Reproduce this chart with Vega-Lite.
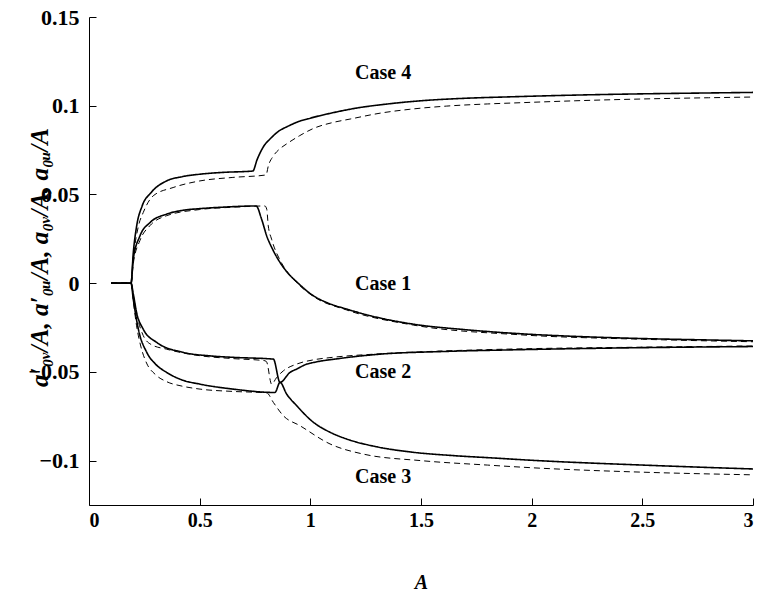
{
  "$schema": "https://vega.github.io/schema/vega-lite/v6.json",
  "autosize": "none",
  "padding": {"left": 89, "top": 17, "right": 9, "bottom": 87},
  "width": 664,
  "height": 488,
  "background": "white",
  "config": {
    "view": {"stroke": null},
    "axis": {
      "grid": false,
      "domainColor": "black",
      "domainWidth": 1,
      "tickColor": "black",
      "tickSize": -7,
      "labelColor": "black",
      "labelFont": "Liberation Serif",
      "labelFontWeight": "bold",
      "labelFontSize": 20,
      "titleColor": "black",
      "titleFont": "Liberation Serif",
      "titleFontWeight": "bold",
      "titleFontStyle": "italic"
    }
  },
  "layer": [
    {
      "data": {
        "values": [
          {"c": "4", "s": "solid", "x": 0.1, "y": 0},
          {"c": "4", "s": "solid", "x": 0.19, "y": 0},
          {"c": "4", "s": "solid", "x": 0.2, "y": 0.017},
          {"c": "4", "s": "solid", "x": 0.215, "y": 0.032},
          {"c": "4", "s": "solid", "x": 0.24, "y": 0.0435},
          {"c": "4", "s": "solid", "x": 0.28, "y": 0.051},
          {"c": "4", "s": "solid", "x": 0.35, "y": 0.0576},
          {"c": "4", "s": "solid", "x": 0.42, "y": 0.06},
          {"c": "4", "s": "solid", "x": 0.5, "y": 0.0614},
          {"c": "4", "s": "solid", "x": 0.6, "y": 0.0624},
          {"c": "4", "s": "solid", "x": 0.74, "y": 0.0632},
          {"c": "4", "s": "solid", "x": 0.76, "y": 0.0698},
          {"c": "4", "s": "solid", "x": 0.79, "y": 0.0773},
          {"c": "4", "s": "solid", "x": 0.82, "y": 0.0815},
          {"c": "4", "s": "solid", "x": 0.85, "y": 0.085},
          {"c": "4", "s": "solid", "x": 0.9, "y": 0.0885},
          {"c": "4", "s": "solid", "x": 0.95, "y": 0.0912},
          {"c": "4", "s": "solid", "x": 1.0, "y": 0.093},
          {"c": "4", "s": "solid", "x": 1.1, "y": 0.096},
          {"c": "4", "s": "solid", "x": 1.2, "y": 0.0985},
          {"c": "4", "s": "solid", "x": 1.35, "y": 0.101},
          {"c": "4", "s": "solid", "x": 1.5, "y": 0.1028},
          {"c": "4", "s": "solid", "x": 1.7, "y": 0.1042},
          {"c": "4", "s": "solid", "x": 1.9, "y": 0.105},
          {"c": "4", "s": "solid", "x": 2.2, "y": 0.106},
          {"c": "4", "s": "solid", "x": 2.5, "y": 0.1067},
          {"c": "4", "s": "solid", "x": 2.8, "y": 0.1072},
          {"c": "4", "s": "solid", "x": 3.0, "y": 0.1075},

          {"c": "4", "s": "dashed", "x": 0.1, "y": 0},
          {"c": "4", "s": "dashed", "x": 0.19, "y": 0},
          {"c": "4", "s": "dashed", "x": 0.2, "y": 0.014},
          {"c": "4", "s": "dashed", "x": 0.223, "y": 0.032},
          {"c": "4", "s": "dashed", "x": 0.245, "y": 0.0398},
          {"c": "4", "s": "dashed", "x": 0.29, "y": 0.0492},
          {"c": "4", "s": "dashed", "x": 0.38, "y": 0.0539},
          {"c": "4", "s": "dashed", "x": 0.5, "y": 0.0576},
          {"c": "4", "s": "dashed", "x": 0.65, "y": 0.0596},
          {"c": "4", "s": "dashed", "x": 0.8, "y": 0.061},
          {"c": "4", "s": "dashed", "x": 0.81, "y": 0.066},
          {"c": "4", "s": "dashed", "x": 0.833, "y": 0.0717},
          {"c": "4", "s": "dashed", "x": 0.863, "y": 0.0758},
          {"c": "4", "s": "dashed", "x": 0.893, "y": 0.0785},
          {"c": "4", "s": "dashed", "x": 0.95, "y": 0.083},
          {"c": "4", "s": "dashed", "x": 1.014, "y": 0.0872},
          {"c": "4", "s": "dashed", "x": 1.1, "y": 0.0905},
          {"c": "4", "s": "dashed", "x": 1.18, "y": 0.0925},
          {"c": "4", "s": "dashed", "x": 1.315, "y": 0.0958},
          {"c": "4", "s": "dashed", "x": 1.45, "y": 0.098},
          {"c": "4", "s": "dashed", "x": 1.616, "y": 0.0998},
          {"c": "4", "s": "dashed", "x": 1.8, "y": 0.101},
          {"c": "4", "s": "dashed", "x": 1.95, "y": 0.1017},
          {"c": "4", "s": "dashed", "x": 2.2, "y": 0.1028},
          {"c": "4", "s": "dashed", "x": 2.5, "y": 0.1038},
          {"c": "4", "s": "dashed", "x": 2.8, "y": 0.1045},
          {"c": "4", "s": "dashed", "x": 3.0, "y": 0.1049},

          {"c": "1", "s": "solid", "x": 0.1, "y": 0},
          {"c": "1", "s": "solid", "x": 0.19, "y": 0},
          {"c": "1", "s": "solid", "x": 0.2, "y": 0.0135},
          {"c": "1", "s": "solid", "x": 0.23, "y": 0.0266},
          {"c": "1", "s": "solid", "x": 0.276, "y": 0.0342},
          {"c": "1", "s": "solid", "x": 0.35, "y": 0.0389},
          {"c": "1", "s": "solid", "x": 0.42, "y": 0.041},
          {"c": "1", "s": "solid", "x": 0.5, "y": 0.042},
          {"c": "1", "s": "solid", "x": 0.6, "y": 0.0428},
          {"c": "1", "s": "solid", "x": 0.755, "y": 0.0435},
          {"c": "1", "s": "solid", "x": 0.78, "y": 0.036},
          {"c": "1", "s": "solid", "x": 0.803, "y": 0.0266},
          {"c": "1", "s": "solid", "x": 0.83, "y": 0.019},
          {"c": "1", "s": "solid", "x": 0.863, "y": 0.0117},
          {"c": "1", "s": "solid", "x": 0.9, "y": 0.0055},
          {"c": "1", "s": "solid", "x": 0.938, "y": 0.0008},
          {"c": "1", "s": "solid", "x": 1.014, "y": -0.0071},
          {"c": "1", "s": "solid", "x": 1.08, "y": -0.0112},
          {"c": "1", "s": "solid", "x": 1.164, "y": -0.0146},
          {"c": "1", "s": "solid", "x": 1.3, "y": -0.0192},
          {"c": "1", "s": "solid", "x": 1.465, "y": -0.0231},
          {"c": "1", "s": "solid", "x": 1.7, "y": -0.0262},
          {"c": "1", "s": "solid", "x": 1.95, "y": -0.0285},
          {"c": "1", "s": "solid", "x": 2.2, "y": -0.03},
          {"c": "1", "s": "solid", "x": 2.5, "y": -0.0312},
          {"c": "1", "s": "solid", "x": 2.8, "y": -0.032},
          {"c": "1", "s": "solid", "x": 3.0, "y": -0.0325},

          {"c": "1", "s": "dashed", "x": 0.1, "y": 0},
          {"c": "1", "s": "dashed", "x": 0.19, "y": 0},
          {"c": "1", "s": "dashed", "x": 0.2, "y": 0.011},
          {"c": "1", "s": "dashed", "x": 0.23, "y": 0.024},
          {"c": "1", "s": "dashed", "x": 0.276, "y": 0.0325},
          {"c": "1", "s": "dashed", "x": 0.35, "y": 0.038},
          {"c": "1", "s": "dashed", "x": 0.5, "y": 0.0415},
          {"c": "1", "s": "dashed", "x": 0.65, "y": 0.0428},
          {"c": "1", "s": "dashed", "x": 0.795, "y": 0.0435},
          {"c": "1", "s": "dashed", "x": 0.803, "y": 0.0417},
          {"c": "1", "s": "dashed", "x": 0.81, "y": 0.0323},
          {"c": "1", "s": "dashed", "x": 0.825, "y": 0.0248},
          {"c": "1", "s": "dashed", "x": 0.863, "y": 0.013},
          {"c": "1", "s": "dashed", "x": 0.9, "y": 0.0058},
          {"c": "1", "s": "dashed", "x": 0.938, "y": 0.0004},
          {"c": "1", "s": "dashed", "x": 1.014, "y": -0.0075},
          {"c": "1", "s": "dashed", "x": 1.164, "y": -0.0151},
          {"c": "1", "s": "dashed", "x": 1.465, "y": -0.0236},
          {"c": "1", "s": "dashed", "x": 1.95, "y": -0.0291},
          {"c": "1", "s": "dashed", "x": 2.5, "y": -0.0316},
          {"c": "1", "s": "dashed", "x": 3.0, "y": -0.033},

          {"c": "2", "s": "solid", "x": 0.1, "y": 0},
          {"c": "2", "s": "solid", "x": 0.19, "y": 0},
          {"c": "2", "s": "solid", "x": 0.2, "y": -0.006},
          {"c": "2", "s": "solid", "x": 0.215, "y": -0.0165},
          {"c": "2", "s": "solid", "x": 0.245, "y": -0.0259},
          {"c": "2", "s": "solid", "x": 0.306, "y": -0.0334},
          {"c": "2", "s": "solid", "x": 0.426, "y": -0.039},
          {"c": "2", "s": "solid", "x": 0.55, "y": -0.041},
          {"c": "2", "s": "solid", "x": 0.652, "y": -0.0418},
          {"c": "2", "s": "solid", "x": 0.833, "y": -0.0428},
          {"c": "2", "s": "solid", "x": 0.863, "y": -0.0559},
          {"c": "2", "s": "solid", "x": 0.908, "y": -0.0503},
          {"c": "2", "s": "solid", "x": 0.938, "y": -0.0484},
          {"c": "2", "s": "solid", "x": 0.984, "y": -0.0456},
          {"c": "2", "s": "solid", "x": 1.014, "y": -0.0447},
          {"c": "2", "s": "solid", "x": 1.134, "y": -0.0424},
          {"c": "2", "s": "solid", "x": 1.315, "y": -0.04},
          {"c": "2", "s": "solid", "x": 1.6, "y": -0.0385},
          {"c": "2", "s": "solid", "x": 1.9, "y": -0.0376},
          {"c": "2", "s": "solid", "x": 2.4, "y": -0.0365},
          {"c": "2", "s": "solid", "x": 3.0, "y": -0.0357},

          {"c": "2", "s": "dashed", "x": 0.1, "y": 0},
          {"c": "2", "s": "dashed", "x": 0.19, "y": 0},
          {"c": "2", "s": "dashed", "x": 0.2, "y": -0.007},
          {"c": "2", "s": "dashed", "x": 0.22, "y": -0.02},
          {"c": "2", "s": "dashed", "x": 0.245, "y": -0.0295},
          {"c": "2", "s": "dashed", "x": 0.28, "y": -0.0345},
          {"c": "2", "s": "dashed", "x": 0.351, "y": -0.0372},
          {"c": "2", "s": "dashed", "x": 0.502, "y": -0.0409},
          {"c": "2", "s": "dashed", "x": 0.65, "y": -0.0425},
          {"c": "2", "s": "dashed", "x": 0.795, "y": -0.0437},
          {"c": "2", "s": "dashed", "x": 0.803, "y": -0.0445},
          {"c": "2", "s": "dashed", "x": 0.825, "y": -0.0569},
          {"c": "2", "s": "dashed", "x": 0.848, "y": -0.0531},
          {"c": "2", "s": "dashed", "x": 0.878, "y": -0.0494},
          {"c": "2", "s": "dashed", "x": 0.938, "y": -0.0456},
          {"c": "2", "s": "dashed", "x": 1.014, "y": -0.0432},
          {"c": "2", "s": "dashed", "x": 1.1, "y": -0.0418},
          {"c": "2", "s": "dashed", "x": 1.315, "y": -0.0398},
          {"c": "2", "s": "dashed", "x": 1.6, "y": -0.0382},
          {"c": "2", "s": "dashed", "x": 1.95, "y": -0.037},
          {"c": "2", "s": "dashed", "x": 2.4, "y": -0.0362},
          {"c": "2", "s": "dashed", "x": 3.0, "y": -0.0354},

          {"c": "3", "s": "solid", "x": 0.1, "y": 0},
          {"c": "3", "s": "solid", "x": 0.19, "y": 0},
          {"c": "3", "s": "solid", "x": 0.2, "y": -0.009},
          {"c": "3", "s": "solid", "x": 0.223, "y": -0.0259},
          {"c": "3", "s": "solid", "x": 0.261, "y": -0.039},
          {"c": "3", "s": "solid", "x": 0.3, "y": -0.0455},
          {"c": "3", "s": "solid", "x": 0.351, "y": -0.0503},
          {"c": "3", "s": "solid", "x": 0.42, "y": -0.0545},
          {"c": "3", "s": "solid", "x": 0.502, "y": -0.0569},
          {"c": "3", "s": "solid", "x": 0.652, "y": -0.0597},
          {"c": "3", "s": "solid", "x": 0.84, "y": -0.0616},
          {"c": "3", "s": "solid", "x": 0.863, "y": -0.0559},
          {"c": "3", "s": "solid", "x": 0.893, "y": -0.0625},
          {"c": "3", "s": "solid", "x": 0.938, "y": -0.069},
          {"c": "3", "s": "solid", "x": 1.014, "y": -0.0784},
          {"c": "3", "s": "solid", "x": 1.089, "y": -0.084},
          {"c": "3", "s": "solid", "x": 1.164, "y": -0.0878},
          {"c": "3", "s": "solid", "x": 1.3, "y": -0.0922},
          {"c": "3", "s": "solid", "x": 1.465, "y": -0.0953},
          {"c": "3", "s": "solid", "x": 1.65, "y": -0.0972},
          {"c": "3", "s": "solid", "x": 1.827, "y": -0.0985},
          {"c": "3", "s": "solid", "x": 2.0, "y": -0.0998},
          {"c": "3", "s": "solid", "x": 2.5, "y": -0.1025},
          {"c": "3", "s": "solid", "x": 3.0, "y": -0.1047},

          {"c": "3", "s": "dashed", "x": 0.1, "y": 0},
          {"c": "3", "s": "dashed", "x": 0.19, "y": 0},
          {"c": "3", "s": "dashed", "x": 0.2, "y": -0.01},
          {"c": "3", "s": "dashed", "x": 0.215, "y": -0.024},
          {"c": "3", "s": "dashed", "x": 0.235, "y": -0.036},
          {"c": "3", "s": "dashed", "x": 0.26, "y": -0.045},
          {"c": "3", "s": "dashed", "x": 0.3, "y": -0.0515},
          {"c": "3", "s": "dashed", "x": 0.351, "y": -0.0555},
          {"c": "3", "s": "dashed", "x": 0.42, "y": -0.058},
          {"c": "3", "s": "dashed", "x": 0.502, "y": -0.0597},
          {"c": "3", "s": "dashed", "x": 0.65, "y": -0.061},
          {"c": "3", "s": "dashed", "x": 0.803, "y": -0.0618},
          {"c": "3", "s": "dashed", "x": 0.833, "y": -0.0672},
          {"c": "3", "s": "dashed", "x": 0.878, "y": -0.0747},
          {"c": "3", "s": "dashed", "x": 0.953, "y": -0.0803},
          {"c": "3", "s": "dashed", "x": 1.089, "y": -0.0906},
          {"c": "3", "s": "dashed", "x": 1.239, "y": -0.0963},
          {"c": "3", "s": "dashed", "x": 1.5, "y": -0.1},
          {"c": "3", "s": "dashed", "x": 1.8, "y": -0.1025},
          {"c": "3", "s": "dashed", "x": 2.0, "y": -0.104},
          {"c": "3", "s": "dashed", "x": 2.5, "y": -0.1065},
          {"c": "3", "s": "dashed", "x": 3.0, "y": -0.108}
        ]
      },
      "mark": {"type": "line", "color": "black", "clip": true, "interpolate": "monotone"},
      "encoding": {
        "x": {
          "field": "x",
          "type": "quantitative",
          "scale": {"domain": [0, 3], "nice": false, "zero": false},
          "axis": {
            "values": [0, 0.5, 1, 1.5, 2, 2.5, 3],
            "format": "~g",
            "labelPadding": 12,
            "title": "A",
            "titleFontSize": 20,
            "titleX": 332,
            "titleY": 83,
            "titleBaseline": "alphabetic",
            "titleAlign": "center"
          }
        },
        "y": {
          "field": "y",
          "type": "quantitative",
          "scale": {"domain": [-0.125, 0.15], "nice": false, "zero": false},
          "axis": {
            "values": [-0.1, -0.05, 0, 0.05, 0.1, 0.15],
            "format": "~g",
            "labelFontSize": 22,
            "labelPadding": 17,
            "title": "a′₀ᵥ/A, a′₀ᵤ/A, a₀ᵥ/A, a₀ᵤ/A",
            "titleFontSize": 25,
            "titleX": -42,
            "titleY": 240,
            "titleAngle": 270,
            "titleBaseline": "alphabetic",
            "titleAlign": "center"
          }
        },
        "detail": {"field": "c"},
        "strokeDash": {
          "field": "s",
          "type": "nominal",
          "scale": {"domain": ["solid", "dashed"], "range": [[1, 0], [6, 4]]},
          "legend": null
        },
        "strokeWidth": {
          "field": "s",
          "type": "nominal",
          "scale": {"domain": ["solid", "dashed"], "range": [1.6, 1]},
          "legend": null
        }
      }
    },
    {
      "data": {
        "values": [
          {"label": "Case 4", "x": 1.329, "y": 0.1185},
          {"label": "Case 1", "x": 1.329, "y": -0.0006},
          {"label": "Case 2", "x": 1.329, "y": -0.0503},
          {"label": "Case 3", "x": 1.329, "y": -0.1095}
        ]
      },
      "mark": {
        "type": "text",
        "font": "Liberation Serif",
        "fontWeight": "bold",
        "fontSize": 20,
        "color": "black",
        "align": "center",
        "baseline": "middle"
      },
      "encoding": {
        "x": {"field": "x", "type": "quantitative"},
        "y": {"field": "y", "type": "quantitative"},
        "text": {"field": "label"}
      }
    }
  ]
}
